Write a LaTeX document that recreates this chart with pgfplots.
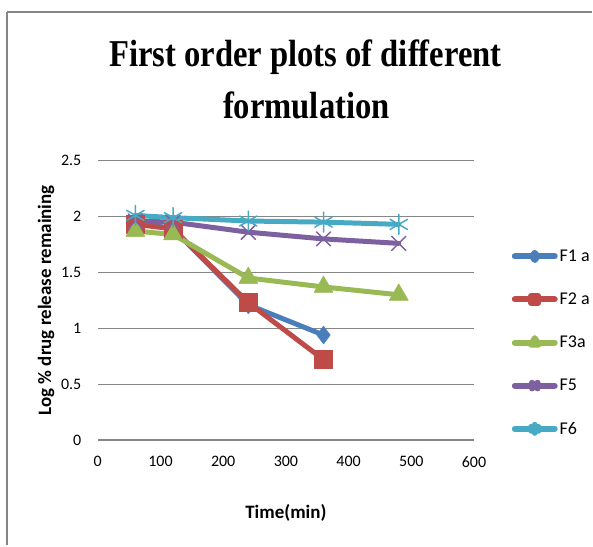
\documentclass[border=0pt]{standalone}
\usepackage{fontspec}
\usepackage{pgfplots}
\pgfplotsset{compat=1.18}
\setmainfont{Carlito}
\newfontfamily\titlefont[FakeStretch=0.86]{Liberation Serif}
\newfontfamily\calfont{Carlito}
\definecolor{c1}{HTML}{4A7EBB}
\definecolor{c2}{HTML}{BE4B48}
\definecolor{c3}{HTML}{98B954}
\definecolor{c4}{HTML}{7D60A0}
\definecolor{c5}{HTML}{46AAC5}
\definecolor{gridc}{HTML}{868686}
\begin{document}
\begin{tikzpicture}
\begin{axis}[
  scale only axis, width=377pt, height=280pt,
  xmin=0, xmax=600, ymin=0, ymax=2.5,
  xtick={0,100,...,600}, ytick={0,0.5,...,2.5},
  axis line style={draw=none},
  major tick length=0pt,
  ymajorgrids, grid style={gridc, line width=1.2pt},
  ticklabel style={font=\calfont\fontsize{16}{16}\selectfont},
  /pgf/number format/assume math mode=true,
  yticklabel style={xshift=-13pt},
  xticklabel style={yshift=-13pt},
  xlabel={\bfseries Time(min)},
  ylabel={\bfseries Log \% drug release remaining},
  label style={font=\calfont\bfseries\fontsize{19}{19}\selectfont},
  xlabel style={yshift=-30pt},
  ylabel style={yshift=0pt},
  clip=false,
  every axis plot/.append style={line width=5pt, line join=round, line cap=round},
  legend style={at={(1.10,0.008)}, anchor=south west, draw=none, fill=none,
    font=\calfont\fontsize{18}{18}\selectfont, row sep=26pt, inner sep=0pt,
    /tikz/every even column/.append style={column sep=2pt}},
  legend cell align=left,
  legend image code/.code={\draw[line width=6pt, line cap=round, mark repeat=2, mark phase=2, mark options={scale=0.4}] plot coordinates {(0pt,0pt)(20pt,0pt)(40pt,0pt)};},
]
\addplot[c1, mark=diamond*, mark size=9pt, mark options={solid, line width=0.5pt}] coordinates {(60,1.95) (120,1.89) (240,1.21) (360,0.94)};
\addlegendentry{F1 a}
\addplot[c2, mark=square*, mark size=9pt, mark options={solid, line width=0.5pt}] coordinates {(60,1.93) (120,1.89) (240,1.23) (360,0.72)};
\addlegendentry{F2 a}
\addplot[c3, mark=triangle*, mark size=11pt, mark options={solid, line width=0.5pt}] coordinates {(60,1.87) (120,1.84) (240,1.45) (360,1.37) (480,1.30)};
\addlegendentry{F3a}
\addplot[c4, mark=x, mark size=10pt, mark options={solid, line width=1.5pt}] coordinates {(60,1.96) (120,1.95) (240,1.86) (360,1.80) (480,1.76)};
\addlegendentry{F5}
\addplot[c5, mark=asterisk, mark size=10pt, mark options={solid, line width=1.5pt}] coordinates {(60,2.01) (120,1.99) (240,1.96) (360,1.95) (480,1.93)};
\addlegendentry{F6}
\end{axis}
\begin{scope}[x=1pt,y=1pt,shift={(-98pt,441pt)}]
\path (0,0) rectangle (593,-546);
\draw[gridc,line width=2.5pt] (7,-12) -- (593,-12);
\draw[gridc,line width=2.5pt] (7,-12) -- (7,-546);
\node[font=\titlefont\bfseries\fontsize{38}{38}\selectfont,anchor=base] at (306,-67) {First order plots of different};
\node[font=\titlefont\bfseries\fontsize{38}{38}\selectfont,anchor=base] at (307,-119) {formulation};
\end{scope}
\end{tikzpicture}
\end{document}
